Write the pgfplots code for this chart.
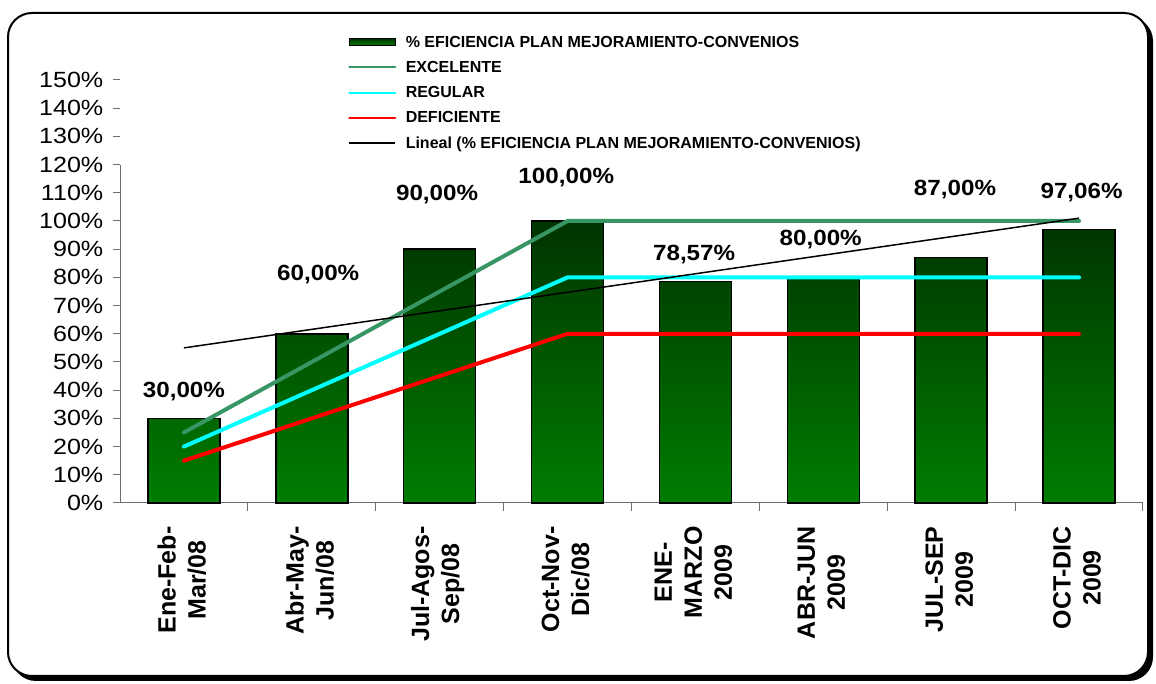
\documentclass[border=0pt]{standalone}
\usepackage{pgfplots}
\pgfplotsset{compat=1.18}
\usepackage{fontspec}
\setmainfont{Liberation Sans}
\definecolor{barTop}{RGB}{0,52,0}
\definecolor{barBot}{RGB}{0,125,0}
\definecolor{excel}{RGB}{56,150,100}
\definecolor{aqua}{RGB}{0,255,255}
\definecolor{axisgray}{RGB}{110,110,110}
\begin{document}
\begin{tikzpicture}
\useasboundingbox (0pt,0pt) rectangle (1156pt,684pt);
% frame with shadow
\fill[black, rounded corners=24pt] (12pt,3pt) rectangle (1153pt,667pt);
\filldraw[fill=white, draw=black, line width=2pt, rounded corners=24pt] (8pt,8pt) rectangle (1148pt,671pt);
\begin{axis}[
  at={(120pt,181pt)}, anchor=south west,
  width=1023pt, height=423pt, scale only axis,
  xmin=0.5, xmax=8.5, ymin=0, ymax=150,
  separate axis lines,
  axis x line*=bottom, axis y line*=left,
  y axis line style={draw=none},
  x axis line style={axisgray, line width=1pt},
  tick align=outside,
  xtick={1,...,8},
  xticklabels={{Ene-Feb-\\Mar/08},{Abr-May-\\Jun/08},{Jul-Agos-\\Sep/08},{Oct-Nov-\\Dic/08},{ENE-\\MARZO\\2009},{ABR-JUN\\2009},{JUL-SEP\\2009},{OCT-DIC\\2009}},
  every major x tick/.append style={draw=none},
  minor xtick={1.5,2.5,...,8.5},
  minor tick length=8pt,
  every minor tick/.append style={axisgray, line width=1pt},
  ytick={0,10,...,150},
  major tick length=7pt,
  every major y tick/.append style={axisgray, line width=1pt},
  yticklabel={\pgfmathprintnumber{\tick}\%},
  /pgf/number format/assume math mode=true,
  yticklabel style={font=\fontsize{22}{22}\selectfont, xscale=1.14, xshift=-5pt},
  xticklabel style={rotate=90, anchor=east, align=center, font=\bfseries\fontsize{25}{30}\selectfont, xshift=-13pt, yshift=2pt},
  legend style={at={(0.22,1.113)}, anchor=north west, draw=none, fill=none,
    font=\bfseries\fontsize{16}{18}\selectfont, row sep=9.5pt,
    nodes={inner sep=1.5pt}},
  legend cell align=left,
  clip=false,
]
\draw[axisgray, line width=1pt] (axis cs:0.5,0) -- (axis cs:0.5,120);

\addplot[ybar, bar width=72pt, draw=black, line width=1.5pt,
  top color=barTop, bottom color=barBot,
  legend image code/.code={\draw[black, line width=1pt, fill=barTop] (0pt,-3.5pt) rectangle (46pt,3.5pt); \path[draw=none, fill=none] (0pt,0pt) -- (55pt,0pt);}]
  coordinates {(1,30) (2,60) (3,90) (4,100) (5,78.57) (6,80) (7,87) (8,97.06)};
\addlegendentry{\% EFICIENCIA PLAN MEJORAMIENTO-CONVENIOS}

\addplot[excel, line width=4pt, line cap=round, mark=none,
  legend image code/.code={\draw[excel, line width=2pt] (0pt,0pt) -- (46pt,0pt); \path[draw=none] (0pt,0pt) -- (55pt,0pt);}]
  coordinates {(1,25) (2,50) (3,75) (4,100) (5,100) (6,100) (7,100) (8,100)};
\addlegendentry{EXCELENTE}

\addplot[aqua, line width=4pt, line cap=round, mark=none,
  legend image code/.code={\draw[aqua, line width=2pt] (0pt,0pt) -- (46pt,0pt); \path[draw=none] (0pt,0pt) -- (55pt,0pt);}]
  coordinates {(1,20) (2,40) (3,60) (4,80) (5,80) (6,80) (7,80) (8,80)};
\addlegendentry{REGULAR}

\addplot[red, line width=4pt, line cap=round, mark=none,
  legend image code/.code={\draw[red, line width=2pt] (0pt,0pt) -- (46pt,0pt); \path[draw=none] (0pt,0pt) -- (55pt,0pt);}]
  coordinates {(1,15) (2,30) (3,45) (4,60) (5,60) (6,60) (7,60) (8,60)};
\addlegendentry{DEFICIENTE}

\addplot[black, line width=1.5pt, mark=none,
  legend image code/.code={\draw[black, line width=2pt] (0pt,0pt) -- (46pt,0pt); \path[draw=none] (0pt,0pt) -- (55pt,0pt);}]
  coordinates {(1,55.0) (8,101.0)};
\addlegendentry{Lineal (\% EFICIENCIA PLAN MEJORAMIENTO-CONVENIOS)}

% data labels: x, label height, value
\addplot[draw=none, mark=none, forget plot, point meta=explicit,
  nodes near coords={\pgfmathprintnumber[fixed, fixed zerofill, precision=2, use comma]{\pgfplotspointmeta}\%},
  nodes near coords style={anchor=center, xscale=1.1, font=\bfseries\fontsize{22}{22}\selectfont}]
  table[x index=0, y index=1, meta index=2] {
  1.00  39.4  30
  2.05  80.9  60
  2.98 109.3  90
  3.99 115.4  100
  4.99  88.0  78.57
  5.98  93.4  80
  7.03 111.1  87
  8.02 110.0  97.06
  };
\end{axis}
\end{tikzpicture}
\end{document}
